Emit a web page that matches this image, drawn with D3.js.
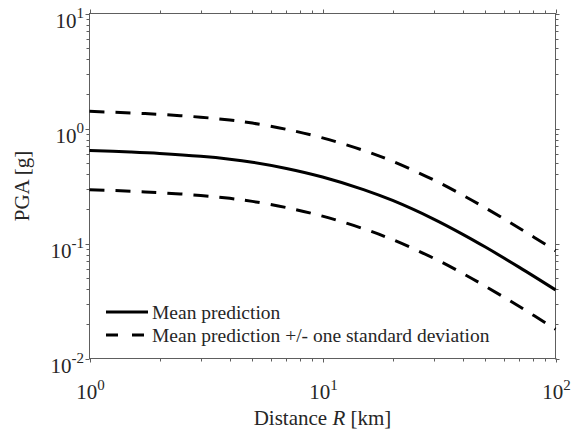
<!DOCTYPE html>
<html>
<head>
<meta charset="utf-8">
<script src="https://cdn.jsdelivr.net/npm/d3@7"></script>
<style>
  html, body { margin: 0; padding: 0; background: #fff; }
  svg { display: block; }
  text { font-family: "Liberation Serif", "Times New Roman", serif; fill: #262626; }
</style>
</head>
<body>
<svg id="chart" width="572" height="439"></svg>
<script>
// Ground-motion prediction: PGA versus source distance
const distanceKm = [1, 1.5, 2, 3, 4, 5, 7, 10, 15, 20, 30, 40, 50, 70, 100];
const meanPGA    = [0.644, 0.6237, 0.606, 0.5728, 0.5407, 0.5089, 0.4495, 0.3787, 0.2944, 0.2366, 0.1631, 0.1202, 0.0931, 0.0620, 0.0395];
const upperPGA   = [1.410, 1.366, 1.327, 1.254, 1.184, 1.114, 0.984, 0.829, 0.645, 0.518, 0.357, 0.263, 0.204, 0.1358, 0.0865];
const lowerPGA   = [0.294, 0.2848, 0.2767, 0.2616, 0.2469, 0.2324, 0.2053, 0.1729, 0.1344, 0.1080, 0.0745, 0.0549, 0.0425, 0.0283, 0.0180];

const xMajorTicks = [1, 10, 100];
const xTickExponents = ["0", "1", "2"];
const yMajorTicks = [0.01, 0.1, 1, 10];
const yTickExponents = ["-2", "-1", "0", "1"];

const legendLabels = ["Mean prediction", "Mean prediction +/- one standard deviation"];

const svg = d3.select("#chart");
const plot = { left: 89.5, right: 555.5, top: 13.5, bottom: 358.5 };

const x = d3.scaleLog().domain([1, 100]).range([plot.left, plot.right]);
const y = d3.scaleLog().domain([0.01, 10]).range([plot.bottom, plot.top]);

// minor ticks: 2..9 within each decade
function minorTicks(lo, hi) {
  const out = [];
  for (let d = lo; d < hi; d *= 10) for (let k = 2; k <= 9; k++) out.push(d * k);
  return out;
}
const xMinor = minorTicks(1, 100);
const yMinor = minorTicks(0.01, 10);

const axisColor = "#5e5e5e";
const axes = svg.append("g").attr("stroke", axisColor).attr("stroke-width", 1).attr("fill", "none");

// box
axes.append("rect")
  .attr("x", plot.left).attr("y", plot.top)
  .attr("width", plot.right - plot.left).attr("height", plot.bottom - plot.top);

// ticks pointing outward on all four sides
function drawXTicks(values, len) {
  values.forEach(v => {
    const px = Math.round(x(v)) + 0.5;
    axes.append("line").attr("x1", px).attr("x2", px).attr("y1", plot.bottom).attr("y2", plot.bottom + len);
    axes.append("line").attr("x1", px).attr("x2", px).attr("y1", plot.top).attr("y2", plot.top - len);
  });
}
function drawYTicks(values, len) {
  values.forEach(v => {
    const py = Math.round(y(v)) + 0.5;
    axes.append("line").attr("y1", py).attr("y2", py).attr("x1", plot.left).attr("x2", plot.left - len);
    axes.append("line").attr("y1", py).attr("y2", py).attr("x1", plot.right).attr("x2", plot.right + len);
  });
}
drawXTicks(xMinor, 3);
drawXTicks(xMajorTicks, 4);
drawYTicks(yMinor, 3);
drawYTicks(yMajorTicks, 4);

// tick labels as powers of ten
const labels = svg.append("g");
xMajorTicks.forEach((v, i) => {
  const t = labels.append("text")
    .attr("x", x(v) + 1).attr("y", 399)
    .attr("text-anchor", "middle").attr("font-size", 21);
  t.append("tspan").text("10");
  t.append("tspan").attr("dy", -9).attr("font-size", 15).text(xTickExponents[i]);
});
yMajorTicks.forEach((v, i) => {
  const t = labels.append("text")
    .attr("x", 84).attr("y", y(v) + 14)
    .attr("text-anchor", "end").attr("font-size", 21);
  t.append("tspan").text("10");
  t.append("tspan").attr("dy", -10).attr("font-size", 15).text(yTickExponents[i]);
});

// axis titles
const xTitle = svg.append("text")
  .attr("x", (plot.left + plot.right) / 2).attr("y", 425)
  .attr("text-anchor", "middle").attr("font-size", 21);
xTitle.append("tspan").text("Distance ");
xTitle.append("tspan").attr("font-style", "italic").text("R");
xTitle.append("tspan").text(" [km]");

svg.append("text")
  .attr("transform", `translate(29,${(plot.top + plot.bottom) / 2}) rotate(-90)`)
  .attr("text-anchor", "middle").attr("font-size", 21)
  .text("PGA [g]");

// curves
const line = d3.line()
  .x(d => x(d[0]))
  .y(d => y(d[1]))
  .curve(d3.curveCatmullRom.alpha(0.5));

const curves = svg.append("g").attr("fill", "none").attr("stroke", "#000").attr("stroke-width", 3);
curves.append("path").attr("d", line(d3.zip(distanceKm, upperPGA))).attr("stroke-dasharray", "15,11");
curves.append("path").attr("d", line(d3.zip(distanceKm, lowerPGA))).attr("stroke-dasharray", "15,11");
curves.append("path").attr("d", line(d3.zip(distanceKm, meanPGA)));

// legend
const legend = svg.append("g");
legend.append("line")
  .attr("x1", 106).attr("x2", 148).attr("y1", 312).attr("y2", 312)
  .attr("stroke", "#000").attr("stroke-width", 3);
legend.append("line")
  .attr("x1", 106).attr("x2", 148).attr("y1", 335).attr("y2", 335)
  .attr("stroke", "#000").attr("stroke-width", 3).attr("stroke-dasharray", "12,14");
legend.selectAll("text.leg").data(legendLabels).join("text")
  .attr("class", "leg")
  .attr("x", 152).attr("y", (d, i) => 318.5 + i * 23.5)
  .attr("font-size", 19.5)
  .text(d => d);
</script>
</body>
</html>
